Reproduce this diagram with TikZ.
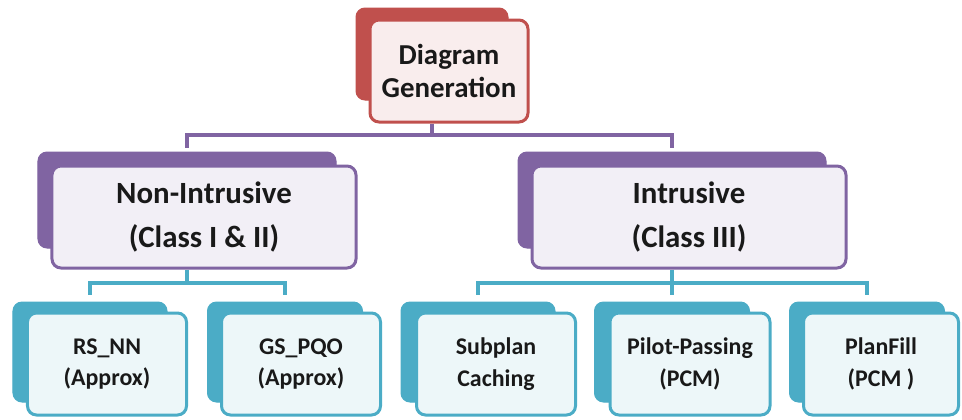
\documentclass[tikz,border=0pt]{standalone}
\usepackage{fontspec}
\setmainfont{Carlito}
\usetikzlibrary{calc}
\definecolor{redc}{HTML}{C0504D}
\definecolor{purc}{HTML}{8064A2}
\definecolor{tealc}{HTML}{4BACC6}
\tikzset{
  back/.style={fill=#1, draw=#1, line width=1bp, rounded corners=9bp, inner sep=0pt},
  front/.style={fill=#1!10!white, draw=#1, line width=3bp, rounded corners=9bp, inner sep=0pt, align=center, text=black!90},
  link/.style={draw=#1, line width=3.5bp},
  topfont/.style={font=\bfseries\fontsize{29}{34}\selectfont},
  midfont/.style={font=\bfseries\fontsize{31}{44}\selectfont},
  lowfont/.style={font=\bfseries\fontsize{24}{32}\selectfont},
}
\begin{document}
\begin{tikzpicture}[x=1bp,y=-1bp]
\useasboundingbox (0,0) rectangle (962,419);
% top level
\node[back=redc, minimum width=152bp, minimum height=92bp] (topb) at (432,54) {};
\node[front=redc, minimum width=158bp, minimum height=102bp, topfont] (top) at (449,71) {Diagram\\Generation};
% second level
\node[back=purc, minimum width=298bp, minimum height=96bp] (nonb) at (187,200) {};
\node[front=purc, minimum width=304bp, minimum height=102bp, midfont] (non) at (204,217) {Non-Intrusive\\(Class I \& II)};
\node[back=purc, minimum width=308bp, minimum height=96bp] (intb) at (672,200) {};
\node[front=purc, minimum width=314bp, minimum height=102bp, midfont] (int) at (689,217) {Intrusive\\(Class III)};
% third level
\node[back=tealc, minimum width=154bp, minimum height=100bp] (rsb) at (90,352) {};
\node[front=tealc, minimum width=159bp, minimum height=102bp, lowfont] (rs) at (107,364) {RS\_NN\\(Approx)};
\node[back=tealc, minimum width=155bp, minimum height=100bp] (gsb) at (285,352) {};
\node[front=tealc, minimum width=159bp, minimum height=102bp, lowfont] (gs) at (301,364) {GS\_PQO\\(Approx)};
\node[back=tealc, minimum width=154bp, minimum height=100bp] (subb) at (478,352) {};
\node[front=tealc, minimum width=159bp, minimum height=102bp, lowfont] (sub) at (496,364) {Subplan\\Caching};
\node[back=tealc, minimum width=155bp, minimum height=100bp] (pilb) at (672,352) {};
\node[front=tealc, minimum width=160bp, minimum height=102bp, lowfont] (pil) at (690,364) {Pilot-Passing\\(PCM)};
\node[back=tealc, minimum width=155bp, minimum height=100bp] (plab) at (867,352) {};
\node[front=tealc, minimum width=155bp, minimum height=102bp, lowfont] (pla) at (881,364) {PlanFill\\(PCM )};
% connectors
\coordinate (topj) at (432,135);
\draw[link=purc] (topb |- top.south) -- (topj);
\draw[link=purc, shorten <=4bp, shorten >=4bp] (nonb.north) |- (topj) -| (intb.north);
\coordinate (nonj) at (187,283);
\draw[link=tealc] (nonb |- non.south) -- (nonj);
\draw[link=tealc, shorten <=7bp, shorten >=7bp] (rsb.north) |- (nonj) -| (gsb.north);
\coordinate (intj) at (672,283);
\draw[link=tealc] (intb |- int.south) -- (intj);
\draw[link=tealc, shorten <=7bp, shorten >=7bp] (subb.north) |- (intj) -| (plab.north);
\draw[link=tealc, shorten >=7bp] (intj) -- (pilb.north);
\end{tikzpicture}
\end{document}
